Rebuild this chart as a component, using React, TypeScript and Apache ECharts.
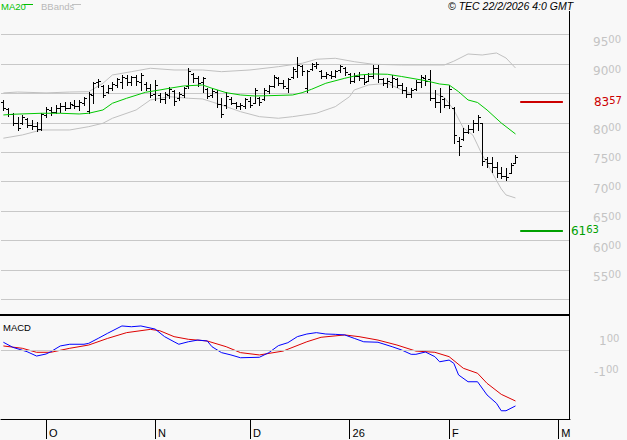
import React, { useEffect, useRef } from 'react';
import * as echarts from 'echarts';

// ---- categories (trading-day slots, incl. future empty slots) ----
const slotCount = 120;
const categories: string[] = Array.from({ length: slotCount }, (_, i) => String(i));
const monthTickIndex = [9, 32, 52, 73, 94, 117];
const monthLabels = ['O', 'N', 'D', '26', 'F', 'M'];

// ---- OHLC ----
const opens = [
  8350, 8240, 8150, 8000, 7990, 8070, 7960, 7950, 7900, 8140,
  8220, 8190, 8250, 8280, 8260, 8310, 8280, 8340, 8200, 8480,
  8690, 8620, 8520, 8590, 8650, 8700, 8760, 8690, 8780, 8700,
  8660, 8600, 8500, 8480, 8400, 8480, 8540, 8420, 8480, 8620,
  8840, 8760, 8690, 8580, 8470, 8530, 8320, 8300, 8400, 8340,
  8280, 8280, 8380, 8340, 8420, 8400, 8540, 8630, 8760, 8680,
  8600, 8780, 8880, 8960, 8600, 8920, 8960, 8880, 8800, 8820,
  8800, 8900, 8940, 8840, 8720, 8800, 8760, 8720, 8800, 8940,
  8740, 8680, 8700, 8750, 8650, 8560, 8500, 8580, 8700, 8770,
  8750, 8420, 8350, 8400, 8300, 8250, 7700, 7720, 7850, 7900,
  8000, 7990, 7380, 7320, 7250, 7150, 7100, 7150, 7320,
];
const highs = [
  8390, 8254, 8169, 8101, 8135, 8084, 8050, 8016, 8169, 8271,
  8271, 8305, 8339, 8356, 8356, 8390, 8390, 8441, 8526, 8696,
  8747, 8645, 8645, 8696, 8764, 8815, 8815, 8798, 8815, 8849,
  8696, 8662, 8730, 8509, 8526, 8611, 8560, 8526, 8611, 8934,
  8849, 8798, 8781, 8594, 8594, 8560, 8424, 8526, 8441, 8356,
  8339, 8424, 8441, 8594, 8441, 8594, 8645, 8815, 8781, 8730,
  8764, 8951, 9121, 8985, 8900, 9019, 9036, 8900, 8866, 8883,
  8900, 8985, 8951, 8849, 8849, 8866, 8815, 8849, 8985, 8985,
  8764, 8764, 8815, 8764, 8679, 8611, 8594, 8730, 8815, 8815,
  8900, 8560, 8594, 8424, 8645, 8271, 7761, 7914, 7965, 8050,
  8135, 7999, 7421, 7421, 7336, 7251, 7234, 7319, 7455,
];
const lows = [
  8220, 8118, 7965, 7880, 7982, 7931, 7897, 7863, 7880, 8101,
  8135, 8169, 8186, 8220, 8254, 8254, 8220, 8305, 8169, 8339,
  8611, 8441, 8509, 8560, 8611, 8594, 8645, 8645, 8645, 8560,
  8560, 8441, 8390, 8356, 8339, 8424, 8305, 8390, 8441, 8594,
  8696, 8628, 8526, 8424, 8441, 8271, 8101, 8254, 8322, 8254,
  8237, 8254, 8271, 8339, 8305, 8390, 8509, 8611, 8645, 8594,
  8526, 8764, 8781, 8815, 8526, 8900, 8934, 8764, 8764, 8764,
  8781, 8866, 8815, 8679, 8696, 8730, 8662, 8713, 8764, 8696,
  8645, 8611, 8611, 8611, 8509, 8441, 8441, 8560, 8611, 8645,
  8390, 8271, 8186, 8271, 8254, 7659, 7455, 7710, 7829, 7846,
  7880, 7285, 7251, 7166, 7081, 7064, 7030, 7149, 7319,
];
const closes = [
  8250, 8150, 8000, 7920, 8100, 7960, 7940, 7900, 8150, 8230,
  8180, 8260, 8280, 8250, 8320, 8280, 8360, 8420, 8500, 8680,
  8720, 8480, 8600, 8670, 8740, 8780, 8700, 8780, 8720, 8820,
  8600, 8480, 8650, 8400, 8500, 8580, 8380, 8500, 8590, 8880,
  8760, 8680, 8760, 8460, 8540, 8320, 8150, 8450, 8340, 8280,
  8300, 8400, 8300, 8560, 8360, 8560, 8620, 8780, 8680, 8620,
  8740, 8920, 8990, 8880, 8880, 9000, 9010, 8800, 8840, 8800,
  8880, 8960, 8860, 8720, 8800, 8760, 8700, 8800, 8930, 8740,
  8680, 8720, 8760, 8650, 8560, 8500, 8560, 8700, 8780, 8720,
  8420, 8360, 8450, 8300, 8580, 7800, 7600, 7850, 7900, 8000,
  8100, 7350, 7320, 7250, 7150, 7100, 7080, 7280, 7420,
];

// ---- indicators: [slot index, value] ----
const ma20Points: [number, number][] = [
  [0, 8135], [2, 8147], [8, 8164], [12, 8164], [16, 8152], [18, 8164], [21, 8220],
  [23, 8334], [26, 8419], [30, 8521], [33, 8560], [35, 8589], [38, 8628], [42, 8645],
  [44, 8589], [47, 8514], [50, 8475], [53, 8458], [56, 8463], [61, 8475], [63, 8514],
  [65, 8572], [68, 8674], [72, 8759], [75, 8815], [78, 8832], [81, 8827], [84, 8789],
  [89, 8718], [92, 8662], [94, 8645], [96, 8531], [98, 8390], [100, 8347], [102, 8220],
  [105, 7999], [108, 7812],
];
const bbUpperPoints: [number, number][] = [
  [0, 8510], [3, 8525], [9, 8510], [14, 8525], [18, 8531], [21, 8674], [23, 8815],
  [27, 8871], [31, 8929], [36, 8900], [42, 8900], [46, 8871], [52, 8900], [58, 8956],
  [63, 9014], [66, 9082], [70, 9099], [74, 9041], [78, 8997], [84, 8985], [93, 8985],
  [95, 9050], [98, 9172], [101, 9155], [104, 9189], [106, 9104], [108, 8934],
];
const bbLowerPoints: [number, number][] = [
  [0, 7740], [4, 7795], [8, 7880], [14, 7880], [18, 7936], [21, 7994], [23, 8079],
  [28, 8220], [31, 8390], [35, 8446], [39, 8419], [42, 8407], [46, 8305], [50, 8191],
  [54, 8106], [58, 8079], [61, 8106], [66, 8164], [70, 8276], [73, 8446], [74, 8560],
  [77, 8645], [81, 8674], [84, 8560], [86, 8504], [91, 8504], [93, 8433], [95, 8220],
  [97, 7914], [99, 7795], [100, 7625], [101, 7455], [103, 7166], [105, 6877], [106, 6775],
  [108, 6724],
];
const macdPoints: [number, number][] = [
  [0, 52], [2, 19], [5, -9], [7, -37], [9, -24], [10, -9], [12, 28], [14, 39], [17, 39],
  [18, 45], [20, 77], [22, 110], [25, 157], [27, 152], [29, 157], [32, 137], [34, 88],
  [36, 55], [37, 39], [39, 55], [41, 66], [43, 60], [44, 23], [46, -15], [48, -30],
  [50, -48], [54, -45], [56, -15], [58, 30], [60, 49], [62, 88], [64, 105], [66, 114],
  [68, 105], [70, 103], [72, 99], [74, 77], [76, 55], [79, 52], [82, 23], [84, 2],
  [86, -26], [87, -26], [89, -11], [91, -41], [92, -74], [94, -63], [95, -84], [96, -159],
  [98, -203], [100, -203], [102, -288], [104, -342], [105, -390], [106, -390], [108, -359],
];
const signalPoints: [number, number][] = [
  [0, 28], [4, 13], [7, -13], [10, -13], [14, 13], [18, 34], [22, 77], [26, 114],
  [31, 135], [33, 126], [36, 88], [39, 71], [43, 60], [47, 23], [50, -15], [54, -30],
  [59, -5], [64, 55], [67, 84], [72, 99], [75, 88], [79, 66], [83, 34], [87, -5],
  [91, -13], [94, -41], [97, -116], [100, -148], [102, -213], [105, -284], [108, -327],
];

// ---- reference levels ----
const resistanceLevel = 8357;
const supportLevel = 6163;
const levelFromSlot = 109;
const levelToSlot = 118;
const priceLabelValues = [5500, 6000, 6500, 7000, 7500, 8000, 9000, 9500];
const macdLabelValues = [100, -100];

const FONT = '"Liberation Sans", Arial, sans-serif';
const AXIS_FONT = '"DejaVu Sans", sans-serif';

function splitNum(v: number): [string, string] {
  const s = String(v);
  return [s.slice(0, s.length - 2), s.slice(s.length - 2)];
}

export default function App() {
  const ref = useRef<HTMLDivElement>(null);

  useEffect(() => {
    document.body.style.margin = '0';
    document.body.style.background = '#f8f8f8';
    const chart = echarts.init(ref.current!, null, { renderer: 'svg' });

    const ohlc = opens.map((o, i) => [i, o, highs[i], lows[i], closes[i]]);

    const richSmallBig = (color: string) => ({
      a: { fontSize: 12, fontFamily: AXIS_FONT, color, lineHeight: 13, verticalAlign: 'bottom' },
      b: { fontSize: 10, fontFamily: AXIS_FONT, color, lineHeight: 9, verticalAlign: 'top' },
    });

    const levelLabel = (v: number, color: string, dist: number) => {
      const [a, b] = splitNum(v);
      return {
        show: true,
        position: 'end',
        distance: dist,
        formatter: `{a|${a}}{b|${b}}`,
        rich: richSmallBig(color),
      };
    };

    const option: any = {
      animation: false,
      backgroundColor: '#f8f8f8',
      grid: [
        { left: 1, right: 57, top: 5.3, height: 294 },
        { left: 1, right: 57, top: 315, bottom: 21 },
      ],
      xAxis: [
        { type: 'category', gridIndex: 0, data: categories, boundaryGap: true, show: false },
        {
          type: 'category', gridIndex: 1, data: categories, boundaryGap: true,
          axisLine: { show: true, onZero: false, lineStyle: { color: '#000', width: 1 } },
          axisTick: {
            show: true, inside: false, alignWithLabel: true, length: 20,
            interval: (i: number) => monthTickIndex.includes(i),
            lineStyle: { color: '#000', width: 1 },
          },
          axisLabel: {
            interval: (i: number) => monthTickIndex.includes(i),
            formatter: (_v: string, i: number) => {
              const k = monthTickIndex.indexOf(i);
              return k >= 0 ? monthLabels[k] : '';
            },
            align: 'left', margin: 8, color: '#000', fontSize: 11, fontFamily: FONT,
            padding: [0, 0, 0, 3],
          },
          splitLine: { show: false },
        },
      ],
      yAxis: [
        {
          type: 'value', gridIndex: 0, position: 'right', min: 5000, max: 10000, interval: 500,
          axisLine: { show: false }, axisTick: { show: false },
          splitLine: { show: true, showMaxLine: false, lineStyle: { color: '#c8c8c8', width: 1 } },
          axisLabel: {
            margin: 23, verticalAlign: 'top', showMaxLabel: false, showMinLabel: false,
            formatter: (v: number) => {
              if (!priceLabelValues.includes(v)) return '';
              const [a, b] = splitNum(v);
              return `{a|${a}}{b|${b}}`;
            },
            rich: richSmallBig('#c4c4c4'),
          },
        },
        { type: 'value', gridIndex: 1, position: 'right', min: -443.2, max: 227.7, show: false },
      ],
      graphic: [
        { type: 'rect', shape: { x: 0, y: 314, width: 570, height: 2 }, style: { fill: '#000' }, z: 100 },
        { type: 'line', shape: { x1: 569.5, y1: 11, x2: 569.5, y2: 420 }, style: { stroke: '#000', lineWidth: 1 }, z: 100 },
        { type: 'text', x: 1, y: 1, style: { text: 'MA20', fill: '#00c000', font: `9.5px ${FONT}` }, z: 100 },
        { type: 'line', shape: { x1: 24, y1: 4.5, x2: 33, y2: 4.5 }, style: { stroke: '#00c000', lineWidth: 1 }, z: 100 },
        { type: 'text', x: 41, y: 1, style: { text: 'BBands', fill: '#b8b8b8', font: `9.5px ${FONT}` }, z: 100 },
        { type: 'line', shape: { x1: 72, y1: 4.5, x2: 81, y2: 4.5 }, style: { stroke: '#c0c0c0', lineWidth: 1 }, z: 100 },
        { type: 'text', x: 448, y: 0, style: { text: '© TEC 22/2/2026 4:0 GMT', fill: '#000', font: `italic 10.5px ${FONT}` }, z: 100 },
        { type: 'text', x: 3, y: 322, style: { text: 'MACD', fill: '#000', font: `9.5px ${FONT}` }, z: 100 },
      ],
      series: [
        {
          type: 'custom', name: 'OHLC', xAxisIndex: 0, yAxisIndex: 0,
          data: ohlc, encode: { x: 0, y: [1, 2, 3, 4] },
          renderItem: (_p: any, api: any) => {
            const idx = api.value(0);
            const pO = api.coord([idx, api.value(1)]);
            const pH = api.coord([idx, api.value(2)]);
            const pL = api.coord([idx, api.value(3)]);
            const pC = api.coord([idx, api.value(4)]);
            const x = Math.round(pO[0]) + 0.5;
            const st = { stroke: '#000', lineWidth: 1 };
            return {
              type: 'group',
              children: [
                { type: 'line', shape: { x1: x, y1: Math.round(pH[1]), x2: x, y2: Math.round(pL[1]) + 1 }, style: st },
                { type: 'line', shape: { x1: x - 2.5, y1: Math.round(pO[1]) + 0.5, x2: x, y2: Math.round(pO[1]) + 0.5 }, style: st },
                { type: 'line', shape: { x1: x, y1: Math.round(pC[1]) + 0.5, x2: x + 2.5, y2: Math.round(pC[1]) + 0.5 }, style: st },
              ],
            };
          },
        },
        {
          type: 'line', name: 'BBands', xAxisIndex: 0, yAxisIndex: 0, data: bbUpperPoints,
          symbol: 'none', lineStyle: { color: '#c0c0c0', width: 1 }, z: 1,
        },
        {
          type: 'line', name: 'BBands', xAxisIndex: 0, yAxisIndex: 0, data: bbLowerPoints,
          symbol: 'none', lineStyle: { color: '#c0c0c0', width: 1 }, z: 1,
        },
        {
          type: 'line', name: 'MA20', xAxisIndex: 0, yAxisIndex: 0, data: ma20Points,
          symbol: 'none', lineStyle: { color: '#00c800', width: 1 }, z: 2,
          markLine: {
            symbol: 'none', silent: true, animation: false,
            data: [
              [
                { coord: [levelFromSlot, resistanceLevel], lineStyle: { color: '#cc0000', width: 2, type: 'solid' }, label: levelLabel(resistanceLevel, '#cc0000', 31) },
                { coord: [levelToSlot, resistanceLevel] },
              ],
              [
                { coord: [levelFromSlot, supportLevel], lineStyle: { color: '#00a000', width: 2, type: 'solid' }, label: levelLabel(supportLevel, '#00a000', 8) },
                { coord: [levelToSlot, supportLevel] },
              ],
            ],
          },
        },
        {
          type: 'line', name: 'MACD', xAxisIndex: 1, yAxisIndex: 1, data: macdPoints,
          symbol: 'none', lineStyle: { color: '#0000ff', width: 1 }, z: 3,
          markLine: {
            symbol: 'none', silent: true, animation: false,
            data: [
              { yAxis: 0, lineStyle: { color: '#c8c8c8', width: 1, type: 'solid' }, label: { show: false } },
              ...macdLabelValues.map((v) => {
                const [a, b] = splitNum(v);
                return {
                  yAxis: v,
                  lineStyle: { color: 'rgba(0,0,0,0)', width: 0 },
                  label: {
                    show: true, position: 'end', distance: v < 0 ? 24 : 29,
                    padding: [11, 0, 0, 0],
                    formatter: `{a|${a}}{b|${b}}`, rich: richSmallBig('#c4c4c4'),
                  },
                };
              }),
            ],
          },
        },
        {
          type: 'line', name: 'Signal', xAxisIndex: 1, yAxisIndex: 1, data: signalPoints,
          symbol: 'none', lineStyle: { color: '#dd0000', width: 1 }, z: 2,
        },
      ],
    };

    chart.setOption(option);
    return () => chart.dispose();
  }, []);

  return <div ref={ref} style={{ width: 627, height: 440, background: '#f8f8f8' }} />;
}
